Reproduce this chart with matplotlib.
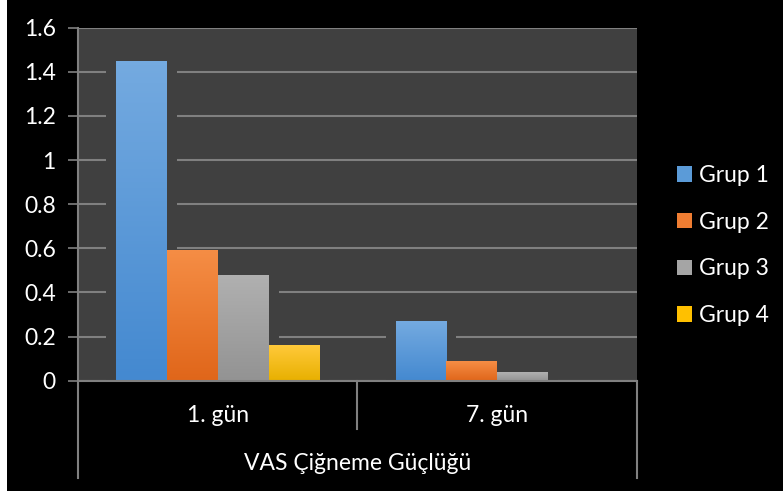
import numpy as np
import matplotlib
matplotlib.use("Agg")
import matplotlib.pyplot as plt
from matplotlib.patches import Rectangle, Patch
from matplotlib.colors import LinearSegmentedColormap

plt.rcParams['font.family'] = ['Lato', 'DejaVu Sans']

# Data
categories = ["1. gün", "7. gün"]
group_title = "VAS Çiğneme Güçlüğü"
series_names = ["Grup 1", "Grup 2", "Grup 3", "Grup 4"]
grup1 = [1.45, 0.27]
grup2 = [0.59, 0.09]
grup3 = [0.48, 0.04]
grup4 = [0.16, 0.0]
yticks = [0, 0.2, 0.4, 0.6, 0.8, 1, 1.2, 1.4, 1.6]
ytick_labels = ["0", "0.2", "0.4", "0.6", "0.8", "1", "1.2", "1.4", "1.6"]

series = [grup1, grup2, grup3, grup4]
# (top colour, bottom colour) of each bar's vertical gradient
grad_colors = [("#74aae0", "#4489d0"),
               ("#f58d45", "#e0661a"),
               ("#b0b0b0", "#939393"),
               ("#ffc93a", "#e8b000")]
legend_colors = ["#5b9bd8", "#ef7d32", "#a5a5a5", "#ffc000"]

FS = 16.5
W, H = 783, 493
fig = plt.figure(figsize=(W / 100, H / 100), dpi=100, facecolor="white")
# black chart background
fig.patches.append(Rectangle((7 / W, 2 / H), 1 - 7 / W, 1 - 2 / H,
                             transform=fig.transFigure, facecolor="black",
                             edgecolor="none", zorder=-10))

left, right, top, bottom = 78, 637, 27.7, 380.7
ax = fig.add_axes([left / W, 1 - bottom / H, (right - left) / W, (bottom - top) / H])
ax.set_zorder(1)
bg = "#404040"
ax.set_facecolor(bg)

grid_c = "#808080"
ax.set_xlim(-0.5, len(categories) - 0.5)
ax.set_ylim(0, 1.6)
ax.set_yticks(yticks)
ax.set_yticklabels(ytick_labels)
ax.yaxis.grid(True, color=grid_c, linewidth=1.5, zorder=0.5)
ax.set_axisbelow(True)
ax.set_xticks([])
ax.tick_params(axis="y", colors=grid_c, labelcolor="white", labelsize=FS,
               length=7, width=1.2, pad=9)
for s in ["top", "right"]:
    ax.spines[s].set_visible(False)
ax.spines["left"].set_color(grid_c)
ax.spines["left"].set_linewidth(1.5)
ax.spines["bottom"].set_color(grid_c)
ax.spines["bottom"].set_linewidth(1.5)

n = len(series)
bw = 0.182
px_per_unit = (right - left) / len(categories)
shadow_pad = 10 / px_per_unit
x = np.arange(len(categories))

for i, (vals, (ctop, cbot)) in enumerate(zip(series, grad_colors)):
    cmap = LinearSegmentedColormap.from_list(f"g{i}", [cbot, ctop])
    grad = np.linspace(0, 1, 64).reshape(-1, 1)
    for xi, v in zip(x, vals):
        if v <= 0:
            continue
        x0 = xi + (i - (n - 1) / 2) * bw - bw / 2
        # soft shadow that interrupts the gridlines beside the bar
        ax.add_patch(Rectangle((x0 - shadow_pad, 0), bw + 2 * shadow_pad, v,
                               facecolor=bg, edgecolor="none", zorder=1))
        ax.imshow(grad, cmap=cmap, origin="lower", aspect="auto",
                  extent=(x0, x0 + bw, 0, v), zorder=2, interpolation="bilinear")

ax.set_xlim(-0.5, len(categories) - 0.5)
ax.set_ylim(0, 1.6)

# multi-level category axis
trans = ax.get_xaxis_transform()
h_ax = bottom - top
y_short = -(429 - bottom) / h_ax
y_long = -(478 - bottom) / h_ax
for xb in [-0.5, len(categories) - 0.5]:
    ax.plot([xb, xb], [0, y_long], transform=trans, color=grid_c, lw=1.5,
            clip_on=False, zorder=3)
for xb in np.arange(0.5, len(categories) - 0.5):
    ax.plot([xb, xb], [0, y_short], transform=trans, color=grid_c, lw=1.5,
            clip_on=False, zorder=3)
for xi, c in zip(x, categories):
    ax.text(xi, -(415 - bottom) / h_ax, c, transform=trans, ha="center",
            va="center", color="white", fontsize=FS)
ax.text((len(categories) - 1) / 2, -(463 - bottom) / h_ax, group_title,
        transform=trans, ha="center", va="center", color="white", fontsize=FS)

handles = [Patch(facecolor=c, edgecolor="none") for c in legend_colors]
fig.legend(handles, series_names, loc="center left",
           bbox_to_anchor=(677 / W, 1 - 245.5 / H), frameon=False,
           labelcolor="white", fontsize=FS, handlelength=0.66,
           handleheight=0.66, handletextpad=0.3, labelspacing=1.12,
           borderpad=0, borderaxespad=0)

fig.savefig("out.png", dpi=100, facecolor=fig.get_facecolor())
